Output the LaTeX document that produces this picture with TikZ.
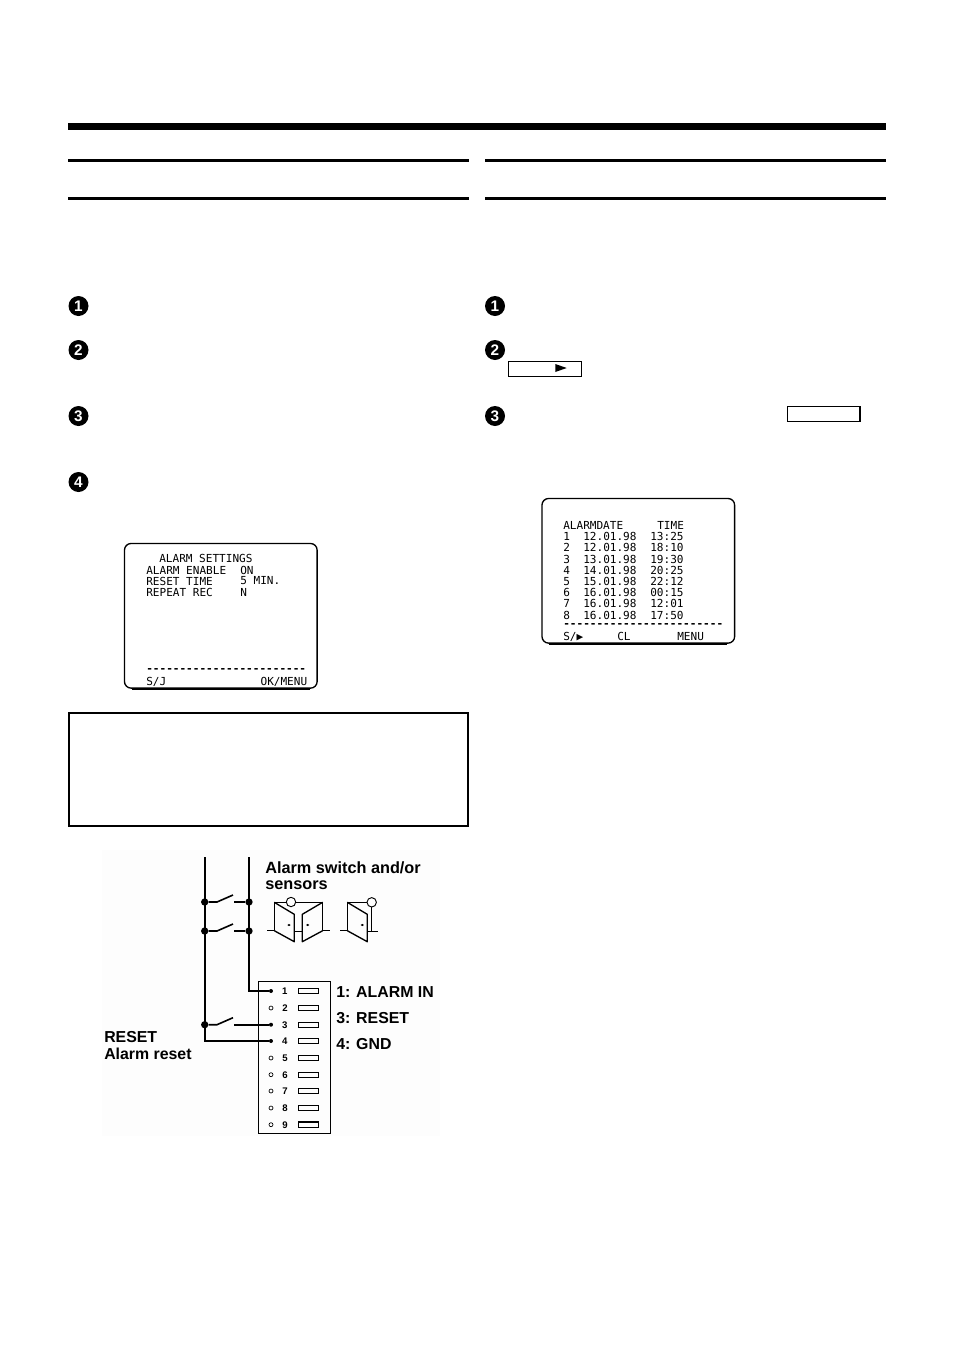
\documentclass[tikz,border=0pt]{standalone}
\usepackage{fontspec}
\usepackage{xcolor}
\usetikzlibrary{positioning}
\setmainfont{Liberation Sans}
\newfontfamily\osdfont{DejaVu Sans Mono}
\definecolor{scan-gray}{HTML}{FDFDFD}

\begin{document}
\begin{tikzpicture}[
    x=0.75pt, y=-0.75pt,
    rulebar/.style={fill=black},
    numdot/.style={circle, fill=black, text=white, minimum size=15pt, inner sep=0pt,
                   font=\fontsize{11.5}{11.5}\selectfont\bfseries},
    keybox/.style={rectangle, draw=black, line width=0.9pt, minimum width=54.5pt,
                   minimum height=11pt, inner sep=0pt},
    screen/.style={rectangle, draw=black, line width=1pt, rounded corners=5pt,
                   minimum width=144.5pt, minimum height=108.5pt, inner sep=0pt},
    screenbase/.style={line width=1.5pt},
    osd/.style={anchor=west, inner sep=0pt, font=\fontsize{8.3}{8.3}\osdfont},
    osdline/.style={osd, font=\fontsize{8.3}{8.3}\osdfont\bfseries},
    label/.style={anchor=west, inner sep=0pt, font=\fontsize{11.9}{11.9}\selectfont\bfseries},
    wire/.style={line width=1.2pt},
    door/.style={line width=1pt, line join=round},
    junction/.style={circle, fill=black, minimum size=5.5pt, inner sep=0pt},
    pinon/.style={circle, fill=black, minimum size=3pt, inner sep=0pt},
    pinoff/.style={circle, draw=black, line width=0.5pt, fill=white, minimum size=3pt, inner sep=0pt},
    pinnum/.style={right=5.5pt of #1, inner sep=0pt, minimum width=6pt,
                   font=\fontsize{7.2}{7.2}\selectfont\bfseries},
    slot/.style={rectangle, draw=black, line width=0.7pt, minimum width=14.8pt,
                 minimum height=4pt, inner sep=0pt, right=18.5pt of #1}
]
  \useasboundingbox (0,0) rectangle (954,1349);

  % Page rules
  \fill[rulebar] (68,123) rectangle (886,130);
  \fill[rulebar] (68,159) rectangle (469,162);
  \fill[rulebar] (68,197) rectangle (469,200);
  \fill[rulebar] (485,159) rectangle (886,162);
  \fill[rulebar] (485,197) rectangle (886,200);

  % Steps, left column
  \node[numdot] (l1) at (78.5,306) {1};
  \node[numdot] (l2) at (78.5,350) {2};
  \node[numdot] (l3) at (78.5,416) {3};
  \node[numdot] (l4) at (78.5,482) {4};

  % Steps, right column
  \node[numdot] (r1) at (495,306) {1};
  \node[numdot] (r2) at (495,350) {2};
  \node[numdot] (r3) at (495,416) {3};

  % Key boxes
  \node[keybox] (playkey) at (545,369) {};
  \fill (555.3,364) -- (566.7,368) -- (555.3,372) -- cycle;
  \node[keybox, line width=1.1pt] (clearkey) at (823.7,414) {};

  % Settings screen
  \node[screen] (setscreen) at (220.8,615.8) {};
  \draw[screenbase] ([xshift=6pt]setscreen.south west) -- ([xshift=-6pt]setscreen.south east);
  \node[osd] (settitle) at (159,558) {ALARM SETTINGS};
  \node[osd] (enable) at (146,570) {ALARM ENABLE};
  \node[osd] (enableval) at (240,570) {ON};
  \node[osd] (resettime) at (146,581) {RESET TIME};
  \node[osd] (resetval) at (240,581) {5 MIN.};
  \node[osd] (repeat) at (146,592) {REPEAT REC};
  \node[osd] (repeatval) at (240,592) {N};
  \node[osdline] (setdash) at (146,670.7) {------------------------};
  \node[osd] (setback) at (146,681.5) {S/J};
  \node[osd, anchor=east] (setok) at (307.5,681.5) {OK/MENU};

  % Alarm list screen
  \node[screen] (listscreen) at (638.3,570.8) {};
  \draw[screenbase] ([xshift=6pt]listscreen.south west) -- ([xshift=-6pt]listscreen.south east);
  \node[osd] (listhead) at (563,525) {ALARMDATE};
  \node[osd] (listtime) at (657,525) {TIME};
  \node[osd] (row1) at (563,536.5) {1};
  \node[osd] (date1) at (583,536.5) {12.01.98};
  \node[osd] (time1) at (650,536.5) {13:25};
  \node[osd] (row2) at (563,547.5) {2};
  \node[osd] (date2) at (583,547.5) {12.01.98};
  \node[osd] (time2) at (650,547.5) {18:10};
  \node[osd] (row3) at (563,559) {3};
  \node[osd] (date3) at (583,559) {13.01.98};
  \node[osd] (time3) at (650,559) {19:30};
  \node[osd] (row4) at (563,570.5) {4};
  \node[osd] (date4) at (583,570.5) {14.01.98};
  \node[osd] (time4) at (650,570.5) {20:25};
  \node[osd] (row5) at (563,581.5) {5};
  \node[osd] (date5) at (583,581.5) {15.01.98};
  \node[osd] (time5) at (650,581.5) {22:12};
  \node[osd] (row6) at (563,592.5) {6};
  \node[osd] (date6) at (583,592.5) {16.01.98};
  \node[osd] (time6) at (650,592.5) {00:15};
  \node[osd] (row7) at (563,603.5) {7};
  \node[osd] (date7) at (583,603.5) {16.01.98};
  \node[osd] (time7) at (650,603.5) {12:01};
  \node[osd] (row8) at (563,615) {8};
  \node[osd] (date8) at (583,615) {16.01.98};
  \node[osd] (time8) at (650,615) {17:50};
  \node[osdline] (listdash) at (563,625.7) {------------------------};
  \node[osd] (listback) at (563,636.5) {S/▶};
  \node[osd] (listclear) at (617,636.5) {CL};
  \node[osd] (listmenu) at (677,636.5) {MENU};

  % Note box
  \node[rectangle, draw=black, line width=1.1pt, minimum width=299pt, minimum height=84.5pt,
        inner sep=0pt] (notebox) at (268.5,769.5) {};

  % Connector block
  \fill[scan-gray] (102,850) rectangle (440,1136);
  \node[rectangle, draw=black, line width=0.75pt, minimum width=54pt, minimum height=114.7pt,
        inner sep=0pt] (block) at (294,1057.5) {};

  % Pins
  \node[pinon] (p1) at (271,991) {};
  \node[pinoff] (p2) at (271,1008) {};
  \node[pinon] (p3) at (271,1024.7) {};
  \node[pinon] (p4) at (271,1041) {};
  \node[pinoff] (p5) at (271,1058) {};
  \node[pinoff] (p6) at (271,1074.7) {};
  \node[pinoff] (p7) at (271,1091) {};
  \node[pinoff] (p8) at (271,1108) {};
  \node[pinoff] (p9) at (271,1124.7) {};
  \node[pinnum=p1] (n1) {1};
  \node[pinnum=p2] (n2) {2};
  \node[pinnum=p3] (n3) {3};
  \node[pinnum=p4] (n4) {4};
  \node[pinnum=p5] (n5) {5};
  \node[pinnum=p6] (n6) {6};
  \node[pinnum=p7] (n7) {7};
  \node[pinnum=p8] (n8) {8};
  \node[pinnum=p9] (n9) {9};
  \node[slot=p1] (s1) {};
  \node[slot=p2] (s2) {};
  \node[slot=p3] (s3) {};
  \node[slot=p4] (s4) {};
  \node[slot=p5] (s5) {};
  \node[slot=p6] (s6) {};
  \node[slot=p7] (s7) {};
  \node[slot=p8] (s8) {};
  \node[slot=p9, line width=1pt] (s9) {};

  % Rails and junctions
  \coordinate (railL) at (204.7,857);
  \coordinate (railR) at (249,857);
  \node[junction] (jl1) at (204.7,902) {};
  \node[junction] (jl2) at (204.7,931) {};
  \node[junction] (jl3) at (204.7,1024.7) {};
  \node[junction] (jr1) at (249,902) {};
  \node[junction] (jr2) at (249,931) {};
  \draw[wire] (railL) |- (p4);
  \draw[wire] (railR) |- (p1);

  % Switches
  \coordinate (sw1) at (217,902);
  \coordinate (sw1t) at (233,895);
  \coordinate (st1) at (234,902);
  \coordinate (sw2) at (217,931);
  \coordinate (sw2t) at (233,924);
  \coordinate (st2) at (234,931);
  \coordinate (sw3) at (217,1024.7);
  \coordinate (sw3t) at (233,1017.7);
  \coordinate (st3) at (234,1024.7);
  \draw[wire] (jl1) -- (sw1) -- (sw1t);
  \draw[wire] (st1) -- (jr1);
  \draw[wire] (jl2) -- (sw2) -- (sw2t);
  \draw[wire] (st2) -- (jr2);
  \draw[wire] (jl3) -- (sw3) -- (sw3t);
  \draw[wire] (st3) -- (p3);

  % Double door
  \draw[door] (267,930.7) -- (274.3,930.7) -- (274.3,902.3) -- (322.7,902.3) -- (322.7,930.7) -- (330,930.7);
  \draw[door] (274.3,902.3) -- (294.3,914.3) -- (294.3,941.7) -- (274.3,930.7);
  \draw[door] (322.7,902.3) -- (302.3,914.3) -- (302.3,941.7) -- (322.7,930.7);
  \draw[door] (294.3,931.7) -- (302.3,931.7);
  \draw[door, line width=0.7pt, fill=white] (291,902) circle (4.7);
  \fill (289,925) ellipse (1.6 and 1.1);
  \fill (307.7,925) ellipse (1.6 and 1.1);

  % Single door
  \draw[door] (340,930.7) -- (347.3,930.7) -- (347.3,902.3) -- (371.7,902.3) -- (371.7,931.7) -- (378,931.7);
  \draw[door] (347.3,902.3) -- (367.3,914.3) -- (367.3,941.7) -- (347.3,930.7);
  \draw[door] (367.3,931.7) -- (371.7,931.7);
  \draw[door, line width=0.7pt, fill=white] (371.7,902.3) circle (4.7);
  \fill (362.3,925) ellipse (1.6 and 1.1);

  % Labels
  \node[label, font=\fontsize{12.2}{12.2}\selectfont\bfseries] (switchtxt) at (265,868) {Alarm switch and/or};
  \node[label, font=\fontsize{12.2}{12.2}\selectfont\bfseries] (sensortxt) at (265,885) {sensors};
  \node[label] (alarmtxt) at (336,992.5) {1: ALARM IN};
  \node[label] (resettxt) at (336,1018.5) {3: RESET};
  \node[label] (gndtxt) at (336,1044.5) {4: GND};
  \node[label] (resethead) at (104,1037.5) {RESET};
  \node[label] (resetsub) at (104,1053.5) {Alarm reset};

\end{tikzpicture}
\end{document}
